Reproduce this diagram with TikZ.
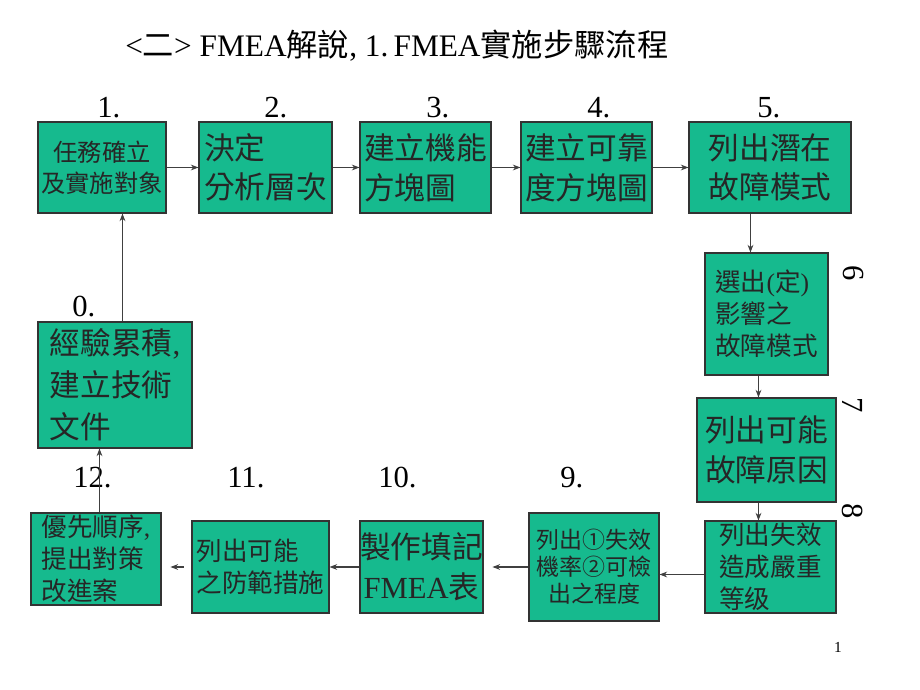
\documentclass[tikz,border=0pt]{standalone}
\usepackage{fontspec}
\setmainfont{Liberation Serif}
\newfontfamily\cjk{Noto Sans CJK TC}
\usetikzlibrary{arrows.meta, calc}
\definecolor{boxgreen}{RGB}{22,186,142}
\newlength\pxu
\setlength\pxu{0.7826pt}
\tikzset{
  stepbox/.style={draw=black!80, fill=boxgreen, line width=0.8pt, inner sep=0pt, align=left, text=black!85},
  boxsize/.style 2 args={minimum width=#1\pxu, minimum height=#2\pxu},
  numlabel/.style={font=\fontsize{24}{28}\selectfont, anchor=base west, inner sep=0pt},
  sidelabel/.style={font=\fontsize{24}{28}\selectfont, rotate=-90, inner sep=0pt},
  txtbig/.style={font=\cjk\fontsize{24}{31}\selectfont},
  txtmid/.style={font=\cjk\fontsize{20}{25}\selectfont},
  txtsmall/.style={font=\cjk\fontsize{18}{21}\selectfont},
  link/.style={draw=black!75, line width=0.8pt, ->},
}

\begin{document}
\begin{tikzpicture}[x=\pxu, y=-\pxu, >={Stealth[length=6pt,width=4.5pt]}]
\useasboundingbox (0,0) rectangle (920,690);

% title
\node[anchor=base west, inner sep=0pt, font=\fontsize{24.5}{28}\selectfont] (title) at (125,57)
  {<{\cjk 二}> FMEA{\cjk 解說}, 1.\,FMEA{\cjk 實施步驟流程}};

% top row
\node[stepbox, boxsize={128}{91}, font=\cjk\fontsize{19}{24}\selectfont, align=center] (n1) at (102,167.5) {任務確立\\及實施對象};
\node[stepbox, boxsize={133}{91}, txtbig] (n2) at (265.5,167.5) {決定\\分析層次};
\node[stepbox, boxsize={131}{91}, txtbig] (n3) at (425.5,167.5) {建立機能\\方塊圖};
\node[stepbox, boxsize={131}{91}, txtbig] (n4) at (586.5,167.5) {建立可靠\\度方塊圖};
\node[stepbox, boxsize={162}{91}, txtbig] (n5) at (770,167.5) {列出潛在\\故障模式};

% right column
\node[stepbox, boxsize={123}{122}, txtmid] (n6) at (766.5,314) {選出{\rmfamily(}定{\rmfamily)}\\影響之\\故障模式};
\node[stepbox, boxsize={139}{104}, txtbig, align=center] (n7) at (766.5,450) {列出可能\\故障原因};
\node[stepbox, boxsize={131}{92}, txtmid] (n8) at (770.5,567) {列出失效\\造成嚴重\\等级};

% bottom row
\node[stepbox, boxsize={130}{108}, txtsmall, align=center] (n9) at (594,567) {列出①失效\\機率②可檢\\出之程度};
\node[stepbox, boxsize={123}{92}, txtbig, align=center] (n10) at (421.5,567) {製作填記\\{\rmfamily FMEA}表};
\node[stepbox, boxsize={137}{92}, txtmid] (n11) at (260.5,567) {列出可能\\之防範措施};
\node[stepbox, boxsize={130}{92}, txtmid] (n12) at (96,559) {優先順序{\rmfamily ,}\\提出對策\\改進案};

% left
\node[stepbox, boxsize={154}{126}, txtbig, font=\cjk\fontsize{24}{33}\selectfont] (n0) at (115,385) {經驗累積{\rmfamily ,}\\建立技術\\文件};

% step numbers
\node[numlabel] (l1) at (97,118) {1.};
\node[numlabel] (l2) at (264,118) {2.};
\node[numlabel] (l3) at (426,118) {3.};
\node[numlabel] (l4) at (587,118) {4.};
\node[numlabel] (l5) at (757,118) {5.};
\node[numlabel] (l0) at (72,317) {0.};
\node[numlabel] (l12) at (73,487) {12.};
\node[numlabel] (l11) at (227,487) {11.};
\node[numlabel] (l10) at (378,487) {10.};
\node[numlabel] (l9) at (560,487) {9.};
\node[sidelabel] (l6) at (853,273) {6};
\node[sidelabel] (l7) at (853,405) {7};
\node[sidelabel] (l8) at (853,511) {8};

% page number
\node[anchor=base, inner sep=0pt, font=\fontsize{12}{14}\selectfont] (page) at (838,652) {1};

% connectors
\draw[link] ($(n0.north west)+(85,0)$) -- ($(n1.south west)+(85,0)$);
\draw[link] (n1.east) -- (n2.west);
\draw[link] (n2.east) -- (n3.west);
\draw[link] (n3.east) -- (n4.west);
\draw[link] (n4.east) -- (n5.west);
\draw[link] ($(n5.south west)+(62,0)$) -- ($(n6.north west)+(46,0)$);
\draw[link] ($(n6.south west)+(54,0)$) -- ($(n7.north west)+(62,0)$);
\draw[link] ($(n7.south west)+(62,0)$) -- ($(n8.north west)+(54,0)$);
\draw[link] ($(n8.north west)+(0,54)$) -- ($(n9.north east)+(0,62)$);
\draw[link, shorten >=7pt] (n9.west) -- (n10.east);
\draw[link] (n10.west) -- (n11.east);
\draw[link, shorten <=6pt, shorten >=7pt] (n11.west) -- (n11.west -| n12.east);
\draw[link] ($(n12.north west)+(69,0)$) -- ($(n0.south west)+(62,0)$);
\end{tikzpicture}
\end{document}
